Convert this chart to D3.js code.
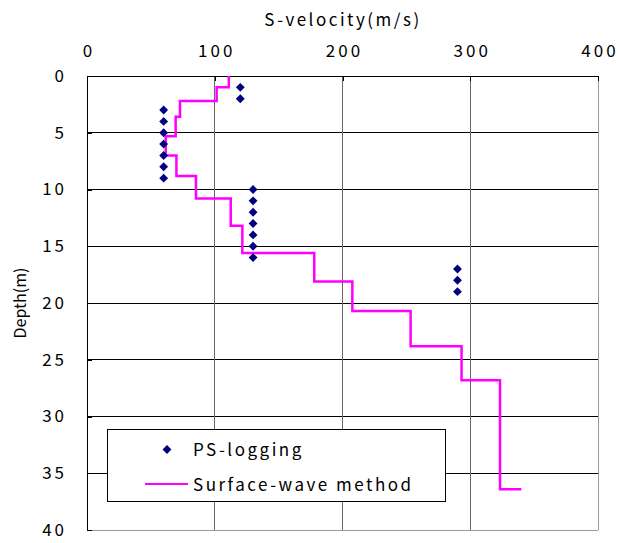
<!DOCTYPE html>
<html><head><meta charset="utf-8">
<script src="https://cdn.jsdelivr.net/npm/d3@7"></script>
<style>
body{margin:0;background:#fff;}
text{font-family:"Noto Sans CJK JP","DejaVu Sans",sans-serif;fill:#000;}
</style></head>
<body><svg id="c" width="618" height="543"></svg>
<script>
// PS-logging measurements
const psDepth = [1,2,3,4,5,6,7,8,9,10,11,12,13,14,15,16,17,18,19];
const psVel   = [120,120,60,60,60,60,60,60,60,130,130,130,130,130,130,130,290,290,290];
// Surface-wave method layered profile
const swBoundaries = [0,1.0,2.2,3.6,5.3,7.0,8.8,10.8,13.2,15.6,18.1,20.7,23.8,26.8,36.4];
const swVel = [111,101.5,72.8,69.4,61.6,70,85.3,112.5,121.6,177.9,207.7,253.3,293.2,323.3];
const swTailVel = 340;
const xTicks = [0,100,200,300,400];
const yTicks = [0,5,10,15,20,25,30,35,40];

const svg = d3.select("#c");
const L=87,R=598,T=76,B=530;
const x = d3.scaleLinear().domain([0,400]).range([L,R]);
const y = d3.scaleLinear().domain([0,40]).range([T,B]);

// gridlines
svg.append("g").selectAll("line").data(yTicks.filter(d=>d>0&&d<40)).join("line")
  .attr("x1",L).attr("x2",R).attr("y1",d=>y(d)).attr("y2",d=>y(d))
  .attr("stroke","#000").attr("stroke-width",1).attr("shape-rendering","crispEdges");
svg.append("g").selectAll("line").data(xTicks.filter(d=>d>0&&d<400)).join("line")
  .attr("x1",d=>x(d)).attr("x2",d=>x(d)).attr("y1",T).attr("y2",B)
  .attr("stroke","#666").attr("stroke-width",1).attr("shape-rendering","crispEdges");
// right/bottom border
svg.append("line").attr("x1",R).attr("x2",R).attr("y1",T).attr("y2",B).attr("stroke","#999").attr("shape-rendering","crispEdges");
svg.append("line").attr("x1",L).attr("x2",R).attr("y1",B).attr("y2",B).attr("stroke","#999").attr("shape-rendering","crispEdges");

// axes
const xAxis = d3.axisTop(x).tickValues(xTicks).tickSize(0).tickPadding(19);
const gx = svg.append("g").attr("transform",`translate(0,${T})`).call(xAxis);
gx.select(".domain").attr("stroke","#000").attr("shape-rendering","crispEdges");
gx.selectAll("text").style("font-size","17px").style("letter-spacing","3px")
  .attr("dx","1.5").attr("font-family",null);
const yAxis = d3.axisLeft(y).tickValues(yTicks).tickSize(0).tickPadding(20);
const gy = svg.append("g").attr("transform",`translate(${L},0)`).call(yAxis);
gy.select(".domain").attr("stroke","#000").attr("shape-rendering","crispEdges");
gy.selectAll("text").style("font-size","17px").style("letter-spacing","3px")
  .attr("font-family",null);
// small tick marks
gy.selectAll(".tick").append("line").attr("x1",0).attr("x2",5).attr("stroke","#000").attr("shape-rendering","crispEdges");
gx.selectAll(".tick").append("line").attr("y1",0).attr("y2",5).attr("stroke","#000").attr("shape-rendering","crispEdges");

svg.append("text").attr("x",343).attr("y",26).attr("text-anchor","middle")
  .style("font-size","17px").style("letter-spacing","2.5px").text("S-velocity(m/s)");
svg.append("text").attr("transform",`translate(26,${(T+B)/2}) rotate(-90)`).attr("text-anchor","middle")
  .style("font-size","16px").text("Depth(m)");

// surface-wave line
const pts = [];
swVel.forEach((v,i)=>{ pts.push([v,swBoundaries[i]]); pts.push([v,swBoundaries[i+1]]); });
pts.push([swTailVel, swBoundaries[swBoundaries.length-1]]);
const line = d3.line().x(d=>x(d[0])).y(d=>y(d[1]));
svg.append("path").attr("d",line(pts)).attr("fill","none").attr("stroke","#FF00FF").attr("stroke-width",2.5);

// PS-logging diamonds
const diamond = d3.symbol().type(d3.symbolDiamond2).size(50);
svg.append("g").selectAll("path").data(psDepth.map((d,i)=>[psVel[i],d])).join("path")
  .attr("transform",d=>`translate(${x(d[0])},${y(d[1])})`)
  .attr("d",diamond).attr("fill","#000080");

// legend
const lg = svg.append("g");
lg.append("rect").attr("x",107).attr("y",429.5).attr("width",338).attr("height",72)
  .attr("fill","#fff").attr("stroke","#000").attr("stroke-width",1).attr("shape-rendering","crispEdges");
lg.append("path").attr("transform","translate(167,449.5)").attr("d",diamond).attr("fill","#000080");
lg.append("text").attr("x",193).attr("y",456).style("font-size","17px").style("letter-spacing","2.5px").text("PS-logging");
lg.append("line").attr("x1",145).attr("x2",188).attr("y1",484).attr("y2",484).attr("stroke","#FF00FF").attr("stroke-width",2);
lg.append("text").attr("x",193).attr("y",491).style("font-size","17px").style("letter-spacing","2.5px").text("Surface-wave method");
</script></body></html>
